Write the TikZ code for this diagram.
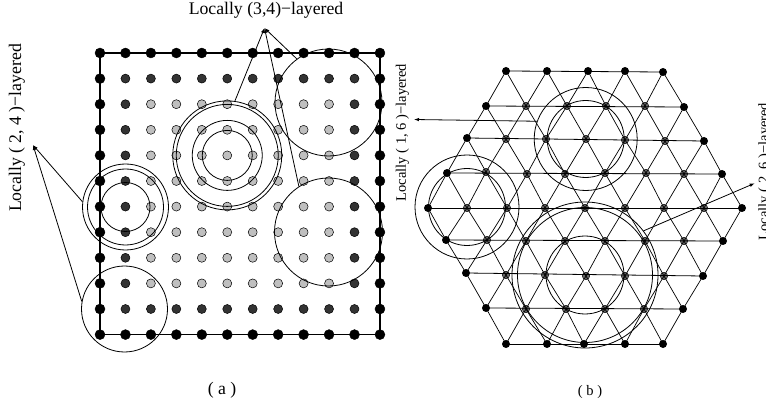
\documentclass[tikz,border=0pt]{standalone}
\usepackage{fontspec}
\setmainfont{Liberation Serif}
\usetikzlibrary{arrows.meta}
\tikzset{
  dotout/.style={circle,fill=black,draw=black,inner sep=0pt,minimum size=10pt},
  dotmid/.style={circle,fill=black!80,draw=black,line width=0.5pt,inner sep=0pt,minimum size=9pt},
  dotin/.style={circle,fill=black!25,draw=black,line width=0.5pt,inner sep=0pt,minimum size=9pt},
  hexout/.style={circle,fill=black,inner sep=0pt,minimum size=8pt},
  hexin/.style={circle,fill=black!60,draw=black,line width=0.4pt,inner sep=0pt,minimum size=7.5pt},
  ring/.style={circle,draw,line width=0.8pt,inner sep=0pt,minimum size=#1},
  pointer/.style={-{Latex[length=5pt,width=3.5pt]},line width=0.8pt},
  bigtxt/.style={font=\fontsize{17.7}{20}\selectfont},
  smalltxt/.style={font=\fontsize{14.5}{17}\selectfont}
}
\begin{document}
\begin{tikzpicture}[x=1pt,y=-1pt]
  \useasboundingbox (0,0) rectangle (766,406);
  % square lattice
  \foreach \r in {0,...,11}
    \foreach \c in {0,...,11}
    {
      \pgfmathtruncatemacro{\lay}{min(min(\r,\c),min(11-\r,11-\c))}
      \ifnum\lay=0 \def\sty{dotout}\else\ifnum\lay=1 \def\sty{dotmid}\else\def\sty{dotin}\fi\fi
      \node[\sty] (g\r-\c) at (100+25.45*\c,53+25.6*\r) {};
    }
  \draw[line width=1.1pt] (g0-0.center) -- (g0-11.center) -- (g11-11.center) -- (g11-0.center) -- cycle;
  % circles on the square lattice
  \node[ring=109pt] (bigA) at (g4-5) {};
  \node[ring=102pt] (bigB) at (g4-5) {};
  \node[ring=70pt] (bigC) at (g4-5) {};
  \node[ring=50pt] (bigD) at (g4-5) {};
  \node[ring=86pt] (leftA) at (125.5,207) {};
  \node[ring=76pt] (leftC) at (125.5,207) {};
  \node[ring=49pt] (leftD) at (125.5,207) {};
  \node[ring=86pt] (leftB) at (124.5,309) {};
  \node[ring=107pt] (rightA) at (328.5,102.5) {};
  \node[ring=108pt] (rightB) at (328.5,232) {};
  % triangular lattice
  \foreach \r/\n/\pts in {
      0/5/{506/71,547/71,588/71,625/71,663/72},
      1/6/{486/106,526/106,567/106,606/106,645/106,684/107},
      2/7/{467/138,506/139,546/139,586/139,625/140,665/141,704/141},
      3/8/{447/173,486/172,527/174,565/174,605/173,646/173,684/174,722/174},
      4/9/{428/208,467/208,507/208,545/208,585/208,625/208,664/208,704/208,742/208},
      5/8/{446/240,487/240,526/241,565/241,605/241,645/241,684/241,723/241},
      6/7/{466/273,506/275,545/275,586/276,625/276,664/276,703/276},
      7/6/{486/308,526/309,566/309,605/309,644/309,683/309},
      8/5/{506/344,547/344,584/344,625/344,663/344}}
  {
    \foreach \x/\y [count=\c] in \pts
    {
      \pgfmathtruncatemacro{\rim}{or(or(\c==1,\c==\n),or(\r==0,\r==8))}
      \ifnum\rim=1 \def\sty{hexout}\else\def\sty{hexin}\fi
      \node[\sty] (h\r-\c) at (\x,\y) {};
    }
    \draw[line width=0.8pt] (h\r-1.center) -- (h\r-\n.center);
  }
  \foreach \r/\s/\n in {0/1/5,1/2/6,2/3/7,3/4/8,8/7/5,7/6/6,6/5/7,5/4/8}
    \foreach \c in {1,...,\n}
    {
      \pgfmathtruncatemacro{\d}{\c+1}
      \draw[line width=0.7pt] (h\r-\c.center) -- (h\s-\c.center);
      \draw[line width=0.7pt] (h\r-\c.center) -- (h\s-\d.center);
    }
  % circles on the triangular lattice
  \node[ring=103pt] (topA) at (585.7,139) {};
  \node[ring=77pt] (topB) at (585.7,139) {};
  \node[ring=104pt] (sideA) at (467,207) {};
  \node[ring=77pt] (sideB) at (467,207) {};
  \node[ring=146pt] (lowA) at (585,275) {};
  \node[ring=135pt] (lowB) at (585,275) {};
  \node[ring=78pt] (lowC) at (585,275) {};
  % labels and pointers
  \node[bigtxt] (lab34) at (266,10) {Locally (3,4)−layered};
  \node[bigtxt,rotate=90] (lab24) at (17,128) {Locally ( 2, 4 )−layered};
  \node[smalltxt,rotate=90] (lab16) at (402.5,132.5) {Locally ( 1, 6 )−layered};
  \node[smalltxt,rotate=90] (lab26) at (765,171.5) {Locally ( 2, 6 )−layered};
  \coordinate (tip34) at (264.5,28);
  \coordinate (tip24) at (33,145);
  \coordinate (tip16) at (414,119.5);
  \coordinate (tip26) at (754.7,183.3);
  \draw[pointer] (bigA.82) -- (tip34);
  \draw[pointer] (rightA.126) -- (tip34);
  \draw[pointer] (rightB.123) -- (tip34);
  \draw[pointer] (leftA.173) -- (tip24);
  \draw[pointer] (leftB.170) -- (tip24);
  \draw[pointer] (topA.160) -- (tip16);
  \draw[pointer] (lowA.37) -- (tip26);
  \node[bigtxt] (capa) at (222,390) {( a )};
  \node[smalltxt] (capb) at (590,392) {( b )};
\end{tikzpicture}
\end{document}
